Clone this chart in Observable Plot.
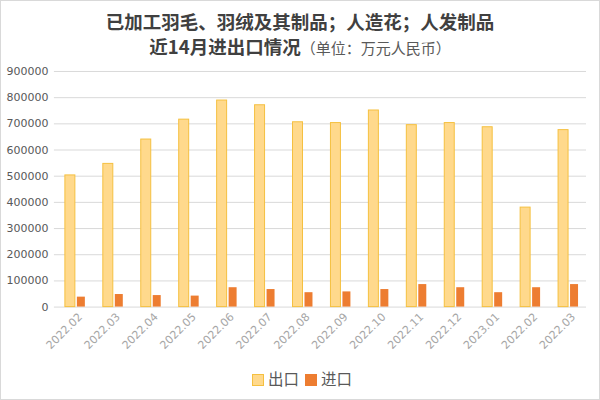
<!DOCTYPE html>
<html>
<head>
<meta charset="utf-8">
<script src="https://cdn.jsdelivr.net/npm/d3@7"></script>
<script src="https://cdn.jsdelivr.net/npm/@observablehq/plot@0.6"></script>
<style>
  html, body { margin: 0; padding: 0; background: #fff; }
  #wrap { position: relative; width: 600px; height: 400px; box-sizing: border-box; border: 1px solid #d9d9d9; font-family: "Noto Sans CJK SC", sans-serif; overflow: hidden; }
  #t1 { position: absolute; top: 7px; left: 0; width: 598px; text-align: center; font-size: 18.5px; font-weight: bold; color: #404040; line-height: 26px; }
  #t2 { position: absolute; top: 32px; left: 0; width: 598px; text-align: center; font-size: 18.5px; font-weight: bold; color: #404040; line-height: 26px; }
  #t2 span { font-size: 15px; font-weight: normal; color: #595959; }
  #chart { position: absolute; top: 59px; left: -1px; }
  #legend { position: absolute; top: 366px; left: 0; width: 598px; text-align: center; font-size: 15.5px; color: #595959; }
  .sw { display: inline-block; width: 12px; height: 12px; vertical-align: -1px; margin: 0 4px 0 4px; box-sizing: border-box; }
</style>
</head>
<body>
<div id="wrap">
  <div id="t1">已加工羽毛、羽绒及其制品；人造花；人发制品</div>
  <div id="t2">近14月进出口情况<span>（单位：万元人民币）</span></div>
  <div id="chart"></div>
  <div id="legend"><span class="sw" style="background:#FFD98C;border:1px solid #F5C040"></span>出口<span class="sw" style="background:#ED7D31;margin-left:6px"></span>进口</div>
</div>
<script>
const months = ["2022.02","2022.03","2022.04","2022.05","2022.06","2022.07","2022.08","2022.09","2022.10","2022.11","2022.12","2023.01","2022.02","2022.03"];
const exportVals = [503000, 547000, 640000, 716000, 789000, 771000, 706000, 703000, 751000, 695000, 703000, 687000, 380000, 676000];
const importVals = [38000, 48000, 44000, 42000, 74000, 67000, 55000, 58000, 67000, 86000, 74000, 55000, 74000, 86000];
const yTicks = [0, 100000, 200000, 300000, 400000, 500000, 600000, 700000, 800000, 900000];

const idx = d3.range(months.length);
const rows = idx.map(i => ({i, exp: exportVals[i], imp: importVals[i]}));

const chart = Plot.plot({
  width: 600,
  height: 300,
  marginTop: 11,
  marginLeft: 54,
  marginRight: 13,
  marginBottom: 53,
  style: {fontFamily: "DejaVu Sans, sans-serif", fontSize: "11px", color: "#595959", background: "transparent"},
  x: {domain: idx, padding: 0, label: null, tickSize: 0, tickRotate: -45, tickPadding: 6, tickFormat: i => months[i]},
  y: {domain: [0, 900000], ticks: yTicks, label: null, tickSize: 0, tickPadding: 6, tickFormat: d => String(d), grid: false},
  marks: [
    Plot.gridY(yTicks, {stroke: "#d9d9d9", strokeOpacity: 1, strokeWidth: 1}),
    Plot.barY(rows, {x: "i", y: "exp", fill: "#FFD98C", stroke: "#F5C040", strokeWidth: 1, insetLeft: 10, insetRight: 18}),
    Plot.barY(rows, {x: "i", y: "imp", fill: "#ED7D31", insetLeft: 22, insetRight: 8}),
    Plot.axisX({tickSize: 0, tickRotate: -45, tickPadding: 8, tickFormat: i => months[i], fill: "#a6a6a6", fontSize: 11, dx: 6, label: null}),
    Plot.axisY({ticks: yTicks, tickSize: 0, tickPadding: 6, tickFormat: d => String(d), fill: "#595959", fontSize: 11, label: null})
  ]
});
document.getElementById("chart").appendChild(chart);
</script>
</body>
</html>
